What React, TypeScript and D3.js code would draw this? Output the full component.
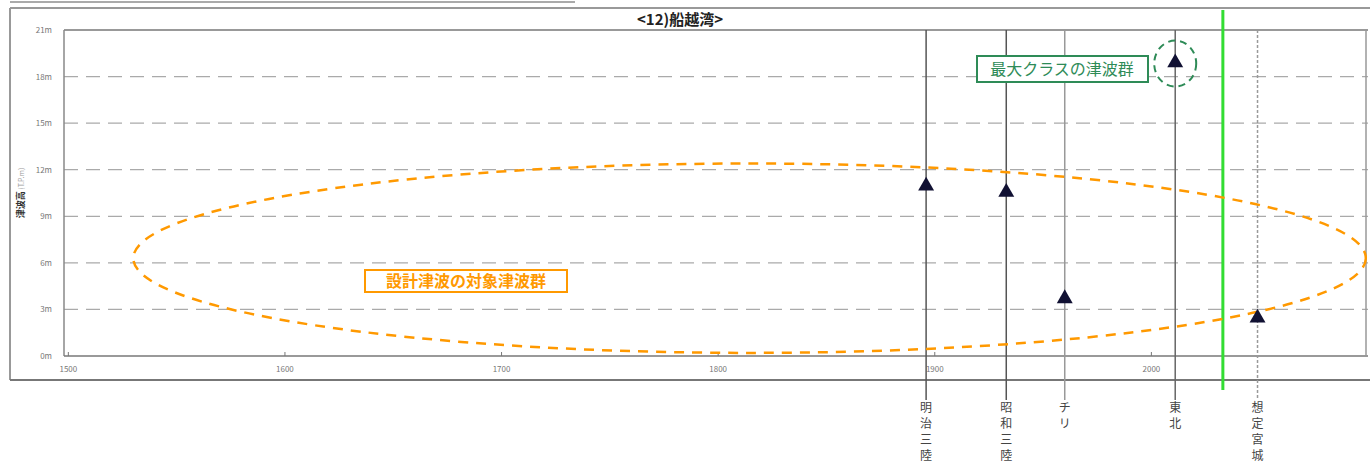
import React from "react";
import * as d3 from "d3";

const title = "<12)船越湾>";
const yTicks = [0, 3, 6, 9, 12, 15, 18, 21];
const xTicks = [1500, 1600, 1700, 1800, 1900, 2000];
const eventNames = ["明治三陸", "昭和三陸", "チリ", "東北", "想定宮城"];
const eventYears = [1896, 1933, 1960, 2011, 2049];
const eventHeights = [10.95, 10.55, 3.7, 18.9, 2.45];
const eventLineColors = ["#555", "#555", "#999", "#666", "#999"];
const eventLineDash = ["none", "none", "none", "none", "3 2"];
const separatorYear = 2033;

const W = 1370;
const H = 472;
const left = 64, right = 1368, top = 30, bottom = 356;

export default function App() {
  const x = d3.scaleLinear().domain([1498, 2100]).range([left, right]);
  const y = d3.scaleLinear().domain([0, 21]).range([bottom, top]);
  const tri = d3.symbol().type(d3.symbolTriangle).size(110)();

  // design-tsunami ellipse and max-class circle in data space
  const ellCx = x(1814.5), ellRx = x(2099) - x(1814.5);
  const ellCy = y(6.3), ellRy = y(0.2) - y(6.3);
  const maxIdx = 3;

  return (
    <svg width={W} height={H} style={{ position: "absolute", left: 0, top: 0, background: "#fff" }}
      fontFamily="'Noto Sans CJK JP', 'Noto Sans', sans-serif">
      {/* frames */}
      <line x1={10} x2={575} y1={2} y2={2} stroke="#aaa" strokeWidth={2} />
      <line x1={10} x2={W} y1={8} y2={8} stroke="#999" strokeWidth={2} />
      <line x1={10} x2={10} y1={8} y2={380} stroke="#999" strokeWidth={2} />
      <line x1={10} x2={W} y1={380} y2={380} stroke="#777" strokeWidth={2} />
      <text x={680} y={25} textAnchor="middle" fontSize={15} fontWeight="bold" fill="#222">{title}</text>

      {/* grid */}
      {yTicks.map((t) => (
        <g key={"y" + t}>
          {t > 0 && t < 21 && (
            <line x1={left} x2={right} y1={y(t)} y2={y(t)} stroke="#aaa" strokeWidth={1.3} strokeDasharray="14 8" />
          )}
          <text x={52} y={y(t) + 3} textAnchor="end" fontSize={8} fill="#777">{t + "m"}</text>
        </g>
      ))}
      <line x1={left} x2={right} y1={top} y2={top} stroke="#999" strokeWidth={2} />
      <line x1={left} x2={left} y1={top} y2={bottom} stroke="#888" strokeWidth={1.5} />
      <line x1={left} x2={right} y1={bottom} y2={bottom} stroke="#777" strokeWidth={1.5} />
      <line x1={right - 2} x2={right - 2} y1={top} y2={bottom} stroke="#999" strokeWidth={1.5} />
      {xTicks.map((t) => (
        <g key={"x" + t}>
          <line x1={x(t)} x2={x(t)} y1={bottom} y2={bottom - 4} stroke="#777" />
          <text x={x(t)} y={372} textAnchor="middle" fontSize={8} fill="#777">{t}</text>
        </g>
      ))}
      <text transform={`translate(24,${(top + bottom) / 2}) rotate(-90)`} textAnchor="middle" fontSize={8} fill="#333">
        <tspan fontWeight="bold" fontSize={9}>津波高</tspan>
        <tspan fill="#999" fontSize={7}> (T.P.m)</tspan>
      </text>

      {/* event lines */}
      {eventYears.map((yr, i) => (
        <line key={"l" + i} x1={x(yr)} x2={x(yr)} y1={top} y2={400}
          stroke={eventLineColors[i]} strokeWidth={1.5} strokeDasharray={eventLineDash[i]} />
      ))}
      {eventNames.map((name, i) => (
        <text key={"n" + i} x={x(eventYears[i])} y={412} textAnchor="middle" fontSize={12} fill="#444">
          {Array.from(name).map((ch, k) => (
            <tspan key={k} x={x(eventYears[i])} dy={k === 0 ? 0 : 16}>{ch}</tspan>
          ))}
        </text>
      ))}

      {/* separator */}
      <line x1={x(separatorYear)} x2={x(separatorYear)} y1={10} y2={390} stroke="#33dd33" strokeWidth={3} />

      {/* design tsunami ellipse */}
      <ellipse cx={ellCx} cy={ellCy} rx={ellRx} ry={ellRy} fill="none" stroke="#ff9900"
        strokeWidth={2.5} strokeDasharray="10 8" />

      {/* points */}
      {eventYears.map((yr, i) => (
        <path key={"p" + i} d={tri!} transform={`translate(${x(yr)},${y(eventHeights[i])})`} fill="#111133" />
      ))}

      {/* max class circle */}
      <ellipse cx={x(eventYears[maxIdx])} cy={y(eventHeights[maxIdx]) + 1} rx={21} ry={23} fill="none"
        stroke="#2e8b57" strokeWidth={2} strokeDasharray="7 5" />

      {/* labels */}
      <rect x={365} y={270} width={202} height={22} fill="#fff" stroke="#ff9900" strokeWidth={2} />
      <text x={466} y={287} textAnchor="middle" fontSize={16} fontWeight="bold" fill="#ff9900">設計津波の対象津波群</text>
      <rect x={977} y={56} width={171} height={26} fill="#fff" stroke="#2e8b57" strokeWidth={2} />
      <text x={1062} y={75} textAnchor="middle" fontSize={16} fill="#2e8b57">最大クラスの津波群</text>
    </svg>
  );
}
